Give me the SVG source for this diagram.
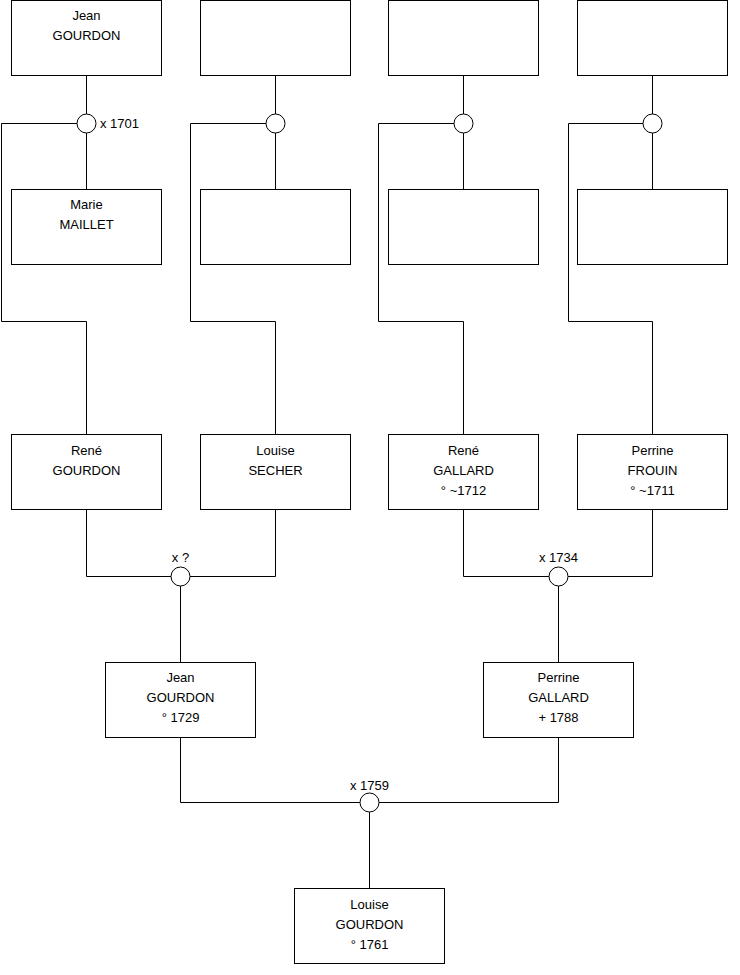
<svg xmlns="http://www.w3.org/2000/svg" width="740" height="975" viewBox="0 0 740 975">
<style>
.box{fill:#fff;stroke:#000;stroke-width:1}
.ln{fill:none;stroke:#000;stroke-width:1}
.m{fill:#fff;stroke:#000;stroke-width:1}
text{font-family:"Liberation Sans",Arial,sans-serif;font-size:13px;fill:#000}
.c{text-anchor:middle}
</style>
<rect width="740" height="975" fill="#fff"/>
<g id="connectors">
<path class="ln" d="M86.5 75.5V114M86.5 133V189.5M77 123.5H1.5V321.5H86.5V434.5"/>
<path class="ln" d="M275.5 75.5V114M275.5 133V189.5M266 123.5H190.5V321.5H275.5V434.5"/>
<path class="ln" d="M463.5 75.5V114M463.5 133V189.5M454 123.5H378.5V321.5H463.5V434.5"/>
<path class="ln" d="M652.5 75.5V114M652.5 133V189.5M643 123.5H568.5V321.5H652.5V434.5"/>
<path class="ln" d="M86.5 509.5V576.5H171M275.5 509.5V576.5H190M180.5 586V662.5"/>
<path class="ln" d="M463.5 509.5V576.5H549M652.5 509.5V576.5H568M558.5 586V662.5"/>
<path class="ln" d="M180.5 737.5V802.5H360M558.5 737.5V802.5H379M369.5 812V888.5"/>
</g>
<g id="unions">
<g id="u1"><circle class="m" cx="86.5" cy="123.5" r="9.5"/><text x="100" y="128">x 1701</text></g>
<g id="u2"><circle class="m" cx="275.5" cy="123.5" r="9.5"/></g>
<g id="u3"><circle class="m" cx="463.5" cy="123.5" r="9.5"/></g>
<g id="u4"><circle class="m" cx="652.5" cy="123.5" r="9.5"/></g>
<g id="u5"><circle class="m" cx="180.5" cy="576.5" r="9.5"/><text class="c" x="180.5" y="562">x ?</text></g>
<g id="u6"><circle class="m" cx="558.5" cy="576.5" r="9.5"/><text class="c" x="558.5" y="562">x 1734</text></g>
<g id="u7"><circle class="m" cx="369.5" cy="802.5" r="9.5"/><text class="c" x="369.5" y="790">x 1759</text></g>
</g>
<g id="n1"><rect class="box" x="11.5" y="0.5" width="150" height="75"/><text class="c" x="86.5" y="20">Jean</text><text class="c" x="86.5" y="40">GOURDON</text></g>
<g id="n2"><rect class="box" x="200.5" y="0.5" width="150" height="75"/></g>
<g id="n3"><rect class="box" x="388.5" y="0.5" width="150" height="75"/></g>
<g id="n4"><rect class="box" x="577.5" y="0.5" width="150" height="75"/></g>
<g id="n5"><rect class="box" x="11.5" y="189.5" width="150" height="75"/><text class="c" x="86.5" y="209">Marie</text><text class="c" x="86.5" y="229">MAILLET</text></g>
<g id="n6"><rect class="box" x="200.5" y="189.5" width="150" height="75"/></g>
<g id="n7"><rect class="box" x="388.5" y="189.5" width="150" height="75"/></g>
<g id="n8"><rect class="box" x="577.5" y="189.5" width="150" height="75"/></g>
<g id="n9"><rect class="box" x="11.5" y="434.5" width="150" height="75"/><text class="c" x="86.5" y="455">René</text><text class="c" x="86.5" y="475">GOURDON</text></g>
<g id="n10"><rect class="box" x="200.5" y="434.5" width="150" height="75"/><text class="c" x="275.5" y="455">Louise</text><text class="c" x="275.5" y="475">SECHER</text></g>
<g id="n11"><rect class="box" x="388.5" y="434.5" width="150" height="75"/><text class="c" x="463.5" y="455">René</text><text class="c" x="463.5" y="475">GALLARD</text><text class="c" x="463.5" y="495">° ~1712</text></g>
<g id="n12"><rect class="box" x="577.5" y="434.5" width="150" height="75"/><text class="c" x="652.5" y="455">Perrine</text><text class="c" x="652.5" y="475">FROUIN</text><text class="c" x="652.5" y="495">° ~1711</text></g>
<g id="n13"><rect class="box" x="105.5" y="662.5" width="150" height="75"/><text class="c" x="180.5" y="682">Jean</text><text class="c" x="180.5" y="702">GOURDON</text><text class="c" x="180.5" y="722">° 1729</text></g>
<g id="n14"><rect class="box" x="483.5" y="662.5" width="150" height="75"/><text class="c" x="558.5" y="682">Perrine</text><text class="c" x="558.5" y="702">GALLARD</text><text class="c" x="558.5" y="722">+ 1788</text></g>
<g id="n15"><rect class="box" x="294.5" y="888.5" width="150" height="75"/><text class="c" x="369.5" y="909">Louise</text><text class="c" x="369.5" y="929">GOURDON</text><text class="c" x="369.5" y="949">° 1761</text></g>
</svg>
